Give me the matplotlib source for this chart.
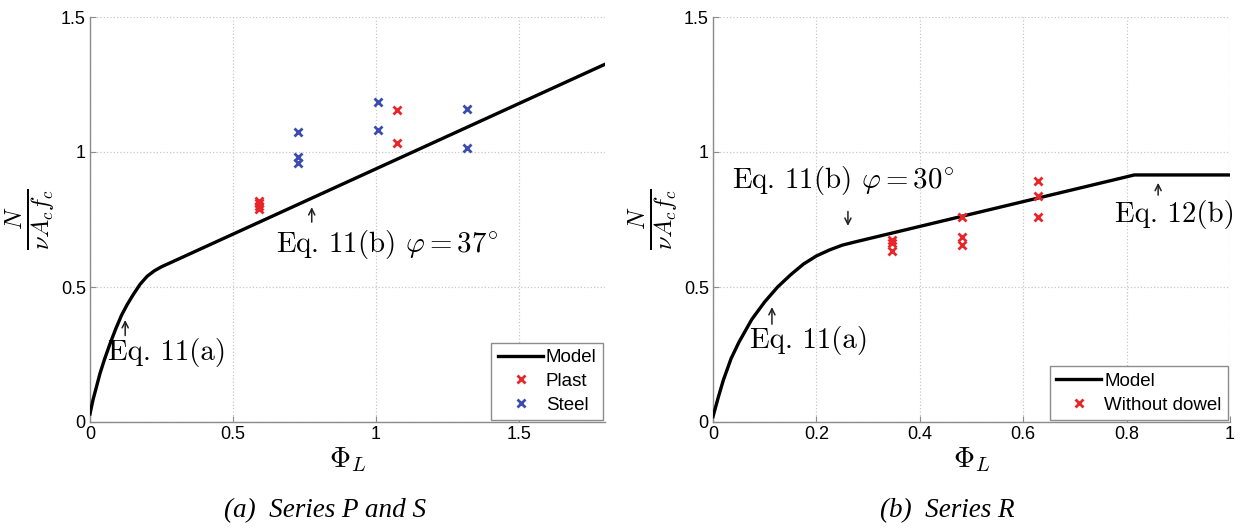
import matplotlib
matplotlib.use("Agg")
import matplotlib.pyplot as plt

plt.rcParams['font.family'] = ['Liberation Sans', 'DejaVu Sans']
plt.rcParams['mathtext.fontset'] = 'cm'

# ---- Data: panel (a) Series P and S ----
model_a_x = [0.0, 0.01, 0.02, 0.035, 0.05, 0.07, 0.09, 0.11, 0.13, 0.15, 0.175,
             0.2, 0.225, 0.25, 0.275, 1.8]
model_a_y = [0.03, 0.08, 0.12, 0.18, 0.23, 0.29, 0.345, 0.395, 0.435, 0.47, 0.51,
             0.54, 0.56, 0.575, 0.587, 1.325]
plast_x = [0.589, 0.589, 0.589, 0.589, 1.074, 1.074]
plast_y = [0.82, 0.81, 0.80, 0.79, 1.156, 1.033]
steel_x = [0.726, 0.726, 0.726, 1.007, 1.007, 1.316, 1.316]
steel_y = [1.074, 0.98, 0.96, 1.185, 1.081, 1.159, 1.015]

# ---- Data: panel (b) Series R ----
model_b_x = [0.0, 0.01, 0.02, 0.035, 0.05, 0.075, 0.1, 0.125, 0.15, 0.175, 0.2,
             0.225, 0.25, 0.275, 0.815, 1.0]
model_b_y = [0.02, 0.09, 0.155, 0.235, 0.295, 0.38, 0.445, 0.5, 0.545, 0.585, 0.615,
             0.637, 0.655, 0.667, 0.915, 0.915]
wo_x = [0.346, 0.346, 0.346, 0.482, 0.482, 0.482, 0.629, 0.629, 0.629]
wo_y = [0.674, 0.663, 0.633, 0.759, 0.685, 0.656, 0.893, 0.837, 0.759]

xticks_a = [0, 0.5, 1, 1.5]
xticklabels_a = ['0', '0.5', '1', '1.5']
xticks_b = [0, 0.2, 0.4, 0.6, 0.8, 1]
xticklabels_b = ['0', '0.2', '0.4', '0.6', '0.8', '1']
yticks = [0, 0.5, 1, 1.5]
yticklabels = ['0', '0.5', '1', '1.5']

RED = '#e8262a'
BLUE = '#3b4cb0'
GRAY = '#8c8c8c'

fig = plt.figure(figsize=(12.47, 5.29), dpi=100)
ax1 = fig.add_axes([90/1247, 1-422/529, 515/1247, 405/529])
ax2 = fig.add_axes([713/1247, 1-422/529, 517/1247, 405/529])

def style(ax, xlim, xt, xtl):
    ax.set_xlim(*xlim)
    ax.set_ylim(0, 1.5)
    ax.set_xticks(xt)
    ax.set_xticklabels(xtl)
    ax.set_yticks(yticks)
    ax.set_yticklabels(yticklabels)
    ax.grid(True, linestyle=':', color='#c8c8c8', linewidth=0.9)
    for s in ['top', 'right']:
        ax.spines[s].set_visible(False)
    for s in ['left', 'bottom']:
        ax.spines[s].set_color(GRAY)
        ax.spines[s].set_linewidth(1.0)
    ax.tick_params(direction='in', color=GRAY, labelsize=13, length=4, pad=3)
    ax.set_xlabel(r'$\Phi_L$', fontsize=21, labelpad=1)
    ax.set_ylabel(r'$\frac{N}{\nu A_c f_c}$', fontsize=25, labelpad=2)

def leg(ax):
    lg = ax.legend(loc='lower right', fontsize=13.5, fancybox=False, framealpha=1,
                   edgecolor=GRAY, handlelength=2.4, borderaxespad=0.1, labelspacing=0.35,
                   handletextpad=0.15, borderpad=0.35, markerscale=0.85)
    lg.get_frame().set_linewidth(1.0)

arrow = dict(arrowstyle='->', color='#222222', lw=1.1, mutation_scale=11)

def eq(ax, x, y, s):
    ax.text(x, y, s, fontsize=20.8, va='baseline', ha='left', fontname='cmr10')

# Panel (a)
style(ax1, (0, 1.8), xticks_a, xticklabels_a)
ax1.plot(model_a_x, model_a_y, color='black', lw=2.4, label='Model', zorder=3)
ax1.plot(plast_x, plast_y, 'x', color=RED, ms=6, mew=2, label='Plast', zorder=4)
ax1.plot(steel_x, steel_y, 'x', color=BLUE, ms=6, mew=2, label='Steel', zorder=4)
leg(ax1)

ax1.annotate('', xy=(0.123, 0.388), xytext=(0.123, 0.31), arrowprops=arrow)
eq(ax1, 0.063, 0.23, 'Eq. 11(a)')
ax1.annotate('', xy=(0.775, 0.806), xytext=(0.775, 0.73), arrowprops=arrow)
eq(ax1, 0.649, 0.63, r'Eq. 11(b) $\varphi = 37^{\circ}$')

# Panel (b)
style(ax2, (0, 1.0), xticks_b, xticklabels_b)
ax2.plot(model_b_x, model_b_y, color='black', lw=2.4, label='Model', zorder=3)
ax2.plot(wo_x, wo_y, 'x', color=RED, ms=6, mew=2, label='Without dowel', zorder=4)
leg(ax2)

ax2.annotate('', xy=(0.114, 0.436), xytext=(0.114, 0.352), arrowprops=arrow)
eq(ax2, 0.072, 0.274, 'Eq. 11(a)')
ax2.annotate('', xy=(0.261, 0.716), xytext=(0.261, 0.79), arrowprops=arrow)
eq(ax2, 0.037, 0.867, r'Eq. 11(b) $\varphi = 30^{\circ}$')
ax2.annotate('', xy=(0.861, 0.896), xytext=(0.861, 0.83), arrowprops=arrow)
eq(ax2, 0.778, 0.74, 'Eq. 12(b)')

fig.text(325/1247, 1-511/529, '(a)  Series P and S', fontsize=19.5, style='italic',
         fontname='Liberation Serif', ha='center', va='center')
fig.text(947/1247, 1-511/529, '(b)  Series R', fontsize=19.5, style='italic',
         fontname='Liberation Serif', ha='center', va='center')

fig.savefig('out.png', dpi=100)
